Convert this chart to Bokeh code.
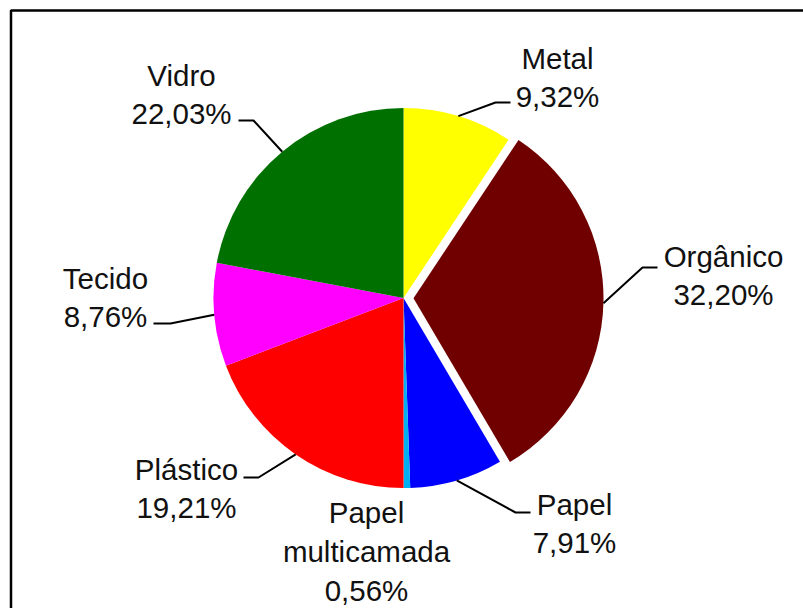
import math
from bokeh.plotting import figure
from bokeh.models import Range1d, ColumnDataSource
from bokeh.core.properties import value
from bokeh.embed import file_html
from bokeh.resources import INLINE

# ---- data (clockwise from 12 o'clock) ----
categories = ["Metal", "Orgânico", "Papel", "Papel\nmulticamada", "Plástico", "Tecido", "Vidro"]
shares = [9.32, 32.20, 7.91, 0.56, 19.21, 8.76, 22.03]
colors = ["#FFFF00", "#700000", "#0000FF", "#00B0F0", "#FF0000", "#FF00FF", "#007000"]
exploded = [False, True, False, False, False, False, False]

W, H = 803, 608
CX, CY, R = 403, 297.5, 190       # pie centre/radius in page pixels
EXPLODE = 10

# label layout: (text centre x, text centre y, elbow x, elbow y, end x, end y) in page pixels
label_layout = [
    (557, 77, 495, 102, 510, 102),
    (723, 275, 642, 267, 657, 267),
    (574, 523, 515, 512, 530, 512),
    (366, 551, None, None, None, None),
    (186, 488, 258, 477, 243, 477),
    (105, 297, 170, 323, 153, 323),
    (181, 94, 253, 120, 238, 120),
]

def fy(y):
    return H - y

p = figure(width=W, height=H, x_range=Range1d(0, W), y_range=Range1d(0, H),
           output_backend="svg", toolbar_location=None, min_border=0,
           background_fill_color="white", border_fill_color="white")
p.axis.visible = False
p.grid.visible = False
p.outline_line_color = None

total = sum(shares)
cum = 0.0
xs, ys, sa, ea, mids = [], [], [], [], []
for s, ex in zip(shares, exploded):
    f0 = cum / total
    f1 = (cum + s) / total
    cum += s
    mid = (f0 + f1) / 2 * 2 * math.pi    # clockwise from top
    dx = EXPLODE * math.sin(mid) if ex else 0.0
    dy = -EXPLODE * math.cos(mid) if ex else 0.0
    xs.append(CX + dx)
    ys.append(fy(CY + dy))
    sa.append(math.pi / 2 - f1 * 2 * math.pi)
    ea.append(math.pi / 2 - f0 * 2 * math.pi)
    mids.append(mid)

src = ColumnDataSource(dict(x=xs, y=ys, start=sa, end=ea, color=colors))
p.wedge(x="x", y="y", radius=R, start_angle="start", end_angle="end",
        fill_color="color", line_color=None, source=src)

# leader lines and labels
lx, ly, tx, ty, tt = [], [], [], [], []
for i, (cat, s) in enumerate(zip(categories, shares)):
    txc, tyc, ex_, ey_, nx, ny = label_layout[i]
    pct = f"{s:.2f}".replace(".", ",") + "%"
    tx.append(txc)
    ty.append(fy(tyc))
    tt.append(cat + "\n" + pct)
    if ex_ is not None:
        sx = xs[i] + R * math.sin(mids[i])
        sy = ys[i] + R * math.cos(mids[i])
        lx.append([sx, ex_, nx])
        ly.append([sy, fy(ey_), fy(ny)])

p.multi_line(xs=lx, ys=ly, line_color="black", line_width=2)

p.text(x=tx, y=ty, text=tt, text_align="center", text_baseline="middle",
       text_font=value("Liberation Sans"), text_font_size="29.5px",
       text_color="#111111", text_line_height=1.17)

# outer frame
p.quad(left=[10.5], right=[W + 20], top=[fy(10)], bottom=[-20],
       fill_color=None, line_color="black", line_width=2.5)

open("out.html", "w").write(file_html(p, INLINE))
